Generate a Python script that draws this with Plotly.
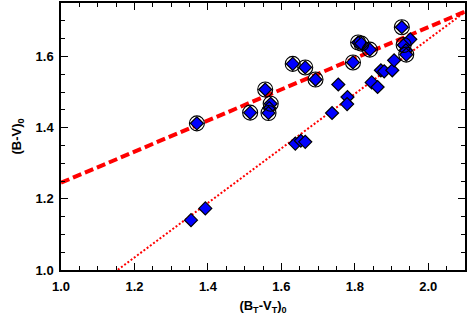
import numpy as np
import plotly.graph_objects as go

# stars: (B_T - V_T)_0 and (B - V)_0
bt_vt = [1.354, 1.393, 1.370, 1.515, 1.556, 1.571, 1.567, 1.565, 1.631, 1.665, 1.693,
         1.638, 1.653, 1.665, 1.738, 1.755, 1.780, 1.779, 1.795, 1.809, 1.818, 1.841,
         1.846, 1.862, 1.871, 1.880, 1.902, 1.907, 1.928, 1.933, 1.939, 1.940, 1.951]
b_v = [1.140, 1.173, 1.412, 1.442, 1.507, 1.467, 1.455, 1.441, 1.579, 1.569, 1.535,
       1.355, 1.363, 1.360, 1.441, 1.521, 1.486, 1.466, 1.583, 1.639, 1.636, 1.619,
       1.527, 1.514, 1.561, 1.558, 1.561, 1.589, 1.682, 1.632, 1.617, 1.605, 1.648]

# circled stars
circ_x = [1.370, 1.515, 1.556, 1.571, 1.565, 1.631, 1.665, 1.693, 1.795, 1.809, 1.818,
          1.841, 1.928, 1.933, 1.940]
circ_y = [1.412, 1.442, 1.507, 1.467, 1.441, 1.579, 1.569, 1.535, 1.583, 1.639, 1.636,
          1.619, 1.682, 1.632, 1.605]

# linear relations y = a + b*x
dash_fit = [0.808, 0.437]
dot_fit = [0.116, 0.766]

xr = [1.0, 2.1]
yr = [1.0, 1.75]

fig = go.Figure()

xs = np.linspace(xr[0], xr[1], 200)
y_dash = dash_fit[0] + dash_fit[1] * xs
fig.add_trace(go.Scatter(x=xs, y=y_dash, mode="lines",
                         line=dict(color="#ff0000", width=4, dash="9px,4px")))
y_dot = dot_fit[0] + dot_fit[1] * xs
keep = y_dot >= yr[0]
fig.add_trace(go.Scatter(x=xs[keep], y=y_dot[keep], mode="lines",
                         line=dict(color="#ff0000", width=2, dash="2px,2px")))

fig.add_trace(go.Scatter(x=bt_vt, y=b_v, mode="markers",
                         marker=dict(symbol="diamond", size=10, color="#0000ff",
                                     line=dict(color="black", width=1.2))))
fig.add_trace(go.Scatter(x=circ_x, y=circ_y, mode="markers",
                         marker=dict(symbol="circle-open", size=15, color="black",
                                     line=dict(color="black", width=1.1))))

font_b = dict(family="Liberation Sans, Arial", size=13, color="black", weight="bold")
axis_style = dict(showgrid=False, zeroline=False, showline=True, linecolor="black",
                  linewidth=1.5, mirror="allticks", ticks="inside", ticklen=7,
                  tickwidth=1.3, tickcolor="black", tickfont=font_b, automargin=False,
                  tickformat=".1f", dtick=0.2, tick0=1.0,
                  minor=dict(ticks="inside", ticklen=4, dtick=0.05, tickcolor="black",
                             tickwidth=1.2))

fig.update_xaxes(range=xr, ticklabelstandoff=4,
                 title=dict(text="(B<sub>T</sub>-V<sub>T</sub>)<sub>0</sub>", standoff=8,
                            font=font_b),
                 **axis_style)
fig.update_yaxes(range=yr, ticklabelstandoff=3,
                 title=dict(text="(B-V)<sub>0</sub>", standoff=11, font=font_b),
                 **axis_style)

fig.update_layout(width=471, height=326, showlegend=False,
                  plot_bgcolor="white", paper_bgcolor="white",
                  margin=dict(l=61, r=6, t=3, b=56))

# drop the page's default body margin so the figure sits at the window corner
fig.write_html("out.html", config={"displayModeBar": False},
               post_script="document.body.style.margin='0';")
